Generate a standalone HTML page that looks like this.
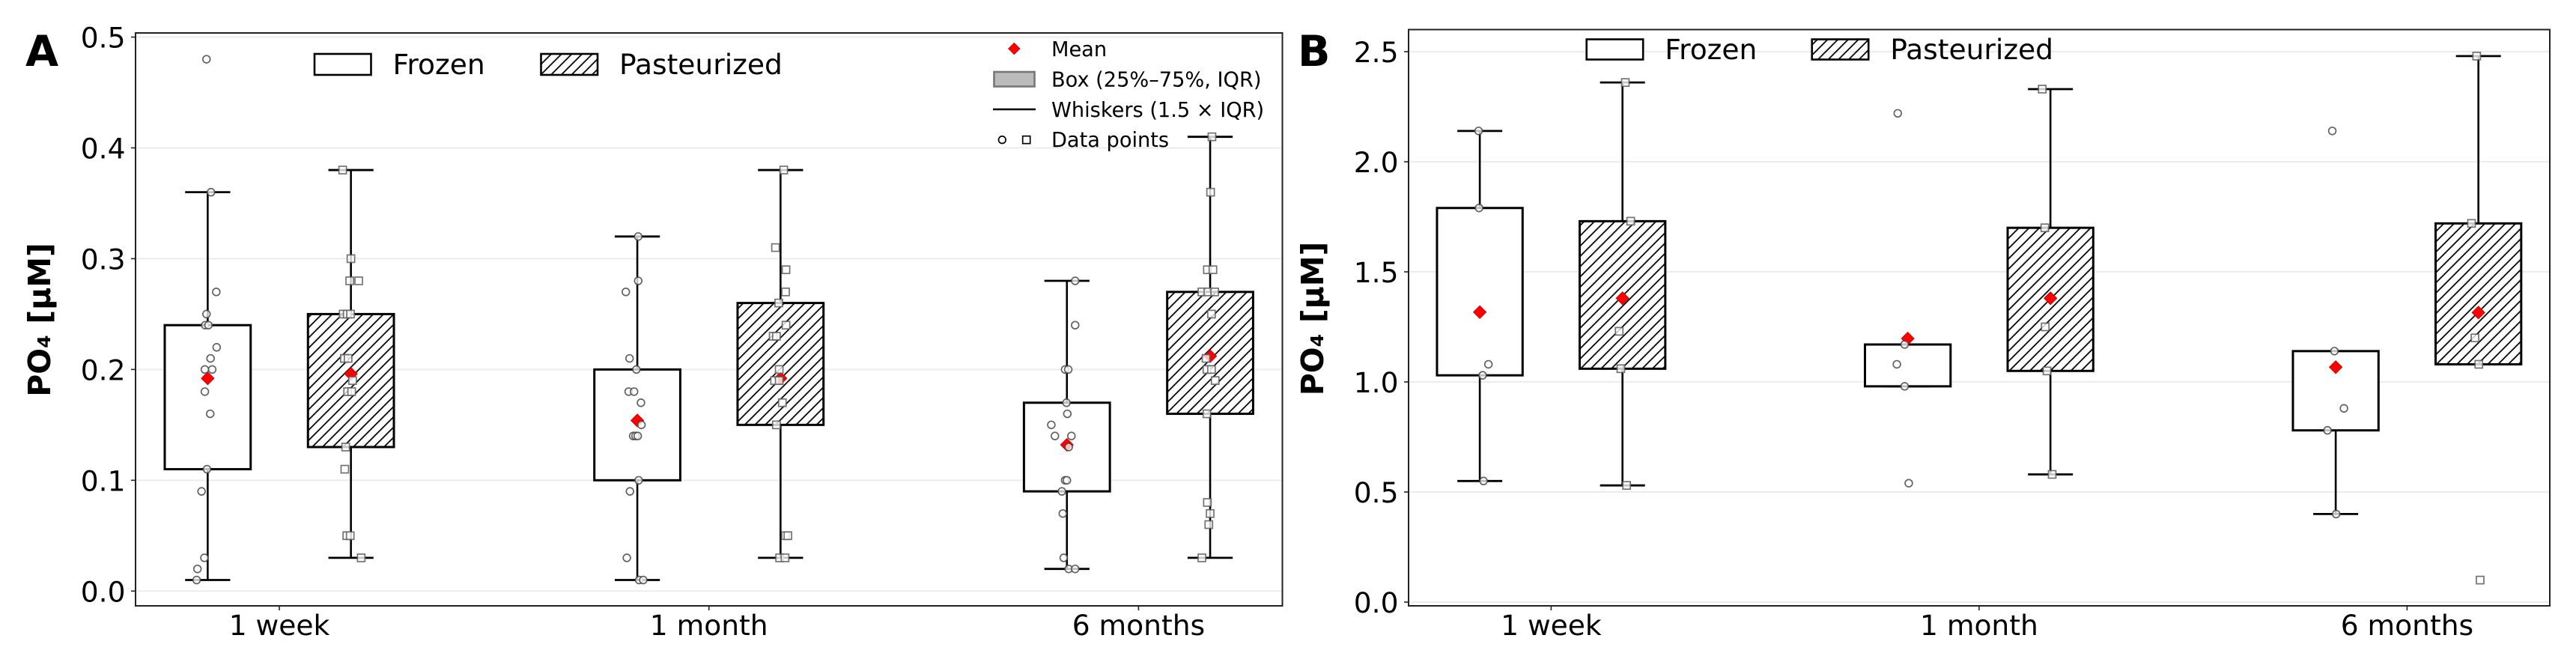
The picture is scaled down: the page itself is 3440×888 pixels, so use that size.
<!DOCTYPE html>
<html lang="en">
<head>
<meta charset="utf-8">
<title>PO4 box plots</title>
<style>
html,body{margin:0;padding:0;background:#fff;width:3440px;height:888px;overflow:hidden}
svg{display:block}
text{font-family:"DejaVu Sans","Liberation Sans",sans-serif;fill:#000}
</style>
</head>
<body>
<svg id="figure" xmlns="http://www.w3.org/2000/svg" width="3440" height="888" viewBox="0 0 3440 888">
  <defs>
    <pattern id="hatch" patternUnits="userSpaceOnUse" width="13.7" height="13.7">
      <path d="M-3.4,17.1 L17.1,-3.4 M-3.4,3.4 L3.4,-3.4 M10.3,17.1 L17.1,10.3" stroke="#000" stroke-width="1.8" fill="none"/>
    </pattern>
  </defs>
</svg>
<script>
/* ---------- shared categories and labels ---------- */
const categories = ['1 week', '1 month', '6 months'];
const seriesNames = ['Frozen', 'Pasteurized'];
const yLabelText = 'PO\u2084 [\u00B5M]';

/* ---------- panel A values ---------- */
const aTicks = [0, 0.1, 0.2, 0.3, 0.4, 0.5];
const aTickLabels = ['0.0', '0.1', '0.2', '0.3', '0.4', '0.5'];
const aFrozenQ1 = [0.11, 0.10, 0.09];
const aFrozenQ3 = [0.24, 0.20, 0.17];
const aFrozenLow = [0.01, 0.01, 0.02];
const aFrozenHigh = [0.36, 0.32, 0.28];
const aFrozenMean = [0.192, 0.154, 0.132];
const aPastQ1 = [0.13, 0.15, 0.16];
const aPastQ3 = [0.25, 0.26, 0.27];
const aPastLow = [0.03, 0.03, 0.03];
const aPastHigh = [0.38, 0.38, 0.41];
const aPastMean = [0.196, 0.192, 0.212];

const aFrozenPts1w = [0.48,0.36,0.27,0.25,0.24,0.24,0.22,0.21,0.20,0.20,0.18,0.16,0.11,0.09,0.03,0.02,0.01];
const aFrozenJit1w = [-0.28,0.77,2.0,-0.28,-0.58,0.17,2.09,0.66,-0.66,1.05,-0.66,0.58,-0.17,-1.43,-0.77,-2.39,-2.58];
const aFrozenPts1m = [0.32,0.28,0.27,0.21,0.20,0.18,0.18,0.17,0.15,0.14,0.14,0.14,0.10,0.09,0.03,0.01,0.01];
const aFrozenJit1m = [0.21,0.21,-2.67,-1.81,-0.21,-2.02,-0.75,0.85,0.96,-0.96,-0.42,0.10,0.31,-1.71,-2.44,0.42,1.39];
const aFrozenPts6m = [0.28,0.24,0.20,0.20,0.17,0.16,0.15,0.14,0.14,0.13,0.10,0.10,0.09,0.07,0.03,0.02,0.02];
const aFrozenJit6m = [1.92,1.92,-0.42,0.31,-0.10,0.10,-3.63,-2.79,1.05,0.42,-0.42,0,-1.17,-0.96,-0.75,0.42,1.92];
const aPastPts1w = [0.38,0.30,0.28,0.28,0.25,0.25,0.25,0.21,0.21,0.19,0.18,0.18,0.13,0.11,0.05,0.05,0.03];
const aPastJit1w = [-1.92,0,-0.28,1.81,-1.81,-0.87,-0.09,-1.53,-0.66,0.38,-0.77,0.17,-1.22,-1.43,-0.96,-0.17,2.39];
const aPastPts1m = [0.38,0.31,0.29,0.27,0.26,0.24,0.23,0.23,0.20,0.19,0.19,0.17,0.15,0.05,0.05,0.03,0.03];
const aPastJit1m = [0.75,-1.17,1.27,1.17,-0.42,1.27,-1.71,-0.96,-0.31,-1.39,-0.31,0.42,-0.96,1.17,1.71,-0.21,1.05];
const aPastPts6m = [0.41,0.36,0.29,0.29,0.27,0.27,0.27,0.25,0.21,0.20,0.20,0.19,0.16,0.08,0.07,0.06,0.03];
const aPastJit6m = [0.42,0.10,-0.64,0.64,-1.92,-0.52,1.05,0.31,-0.96,-0.75,0.31,1.17,-0.75,-0.64,0,-0.31,-1.92];

/* ---------- panel B values ---------- */
const bTicks = [0, 0.5, 1.0, 1.5, 2.0, 2.5];
const bTickLabels = ['0.0', '0.5', '1.0', '1.5', '2.0', '2.5'];
const bFrozenQ1 = [1.03, 0.98, 0.78];
const bFrozenQ3 = [1.79, 1.17, 1.14];
const bFrozenLow = [0.55, 0.98, 0.40];
const bFrozenHigh = [2.14, 1.17, 1.14];
const bFrozenMean = [1.317, 1.197, 1.067];
const bPastQ1 = [1.06, 1.05, 1.08];
const bPastQ3 = [1.73, 1.70, 1.72];
const bPastLow = [0.53, 0.58, 1.08];
const bPastHigh = [2.36, 2.33, 2.48];
const bPastMean = [1.38, 1.38, 1.315];

const bFrozenPts1w = [2.14,1.79,1.08,1.03,0.55];
const bFrozenJit1w = [-0.28,-0.17,2.01,0.66,0.87];
const bFrozenPts1m = [2.22,1.17,1.08,0.98,0.54];
const bFrozenJit1m = [-2.34,-0.73,-2.55,-0.73,0.23];
const bFrozenPts6m = [2.14,1.14,0.88,0.78,0.40];
const bFrozenJit6m = [-0.80,-0.30,1.92,-1.92,0.10];
const bPastPts1w = [2.36,1.73,1.23,1.06,0.53];
const bPastJit1w = [0.66,1.92,-0.77,-0.38,0.96];
const bPastPts1m = [2.33,1.70,1.25,1.05,0.58];
const bPastJit1m = [-1.92,-1.31,-1.22,-0.80,0.40];
const bPastPts6m = [2.48,1.72,1.20,1.08,0.10];
const bPastJit6m = [-0.40,-1.61,-0.80,0.10,0.40];

/* ---------- drawing ---------- */
const NS = 'http://www.w3.org/2000/svg';
const root = document.getElementById('figure');
const SERIES_OFFSET = 0.1667;
const BOX_W = 0.2;
const CAP_W = 0.105;

function mk(parent, tag, attrs, txt) {
  const n = document.createElementNS(NS, tag);
  for (const k in attrs) n.setAttribute(k, attrs[k]);
  if (txt !== undefined) n.textContent = txt;
  parent.appendChild(n);
  return n;
}

function drawSeries(g, ax, s, q1, q3, lo, hi, mean, ptsList, jitList, seriesKey) {
  const off = s === 0 ? -SERIES_OFFSET : SERIES_OFFSET;
  categories.forEach(function (cat, c) {
    const cx = ax.x(c + off);
    const half = (ax.x(BOX_W) - ax.x(0)) / 2;
    const capHalf = (ax.x(CAP_W) - ax.x(0)) / 2;

    const whiskHi = mk(g, 'line', {x1: cx, x2: cx, y1: ax.y(q3[c]), y2: ax.y(hi[c]), stroke: '#000', 'stroke-width': 2.6});
    
    
    const whiskLo = mk(g, 'line', {x1: cx, x2: cx, y1: ax.y(q1[c]), y2: ax.y(lo[c]), stroke: '#000', 'stroke-width': 2.6});
    
    
    const capHi = mk(g, 'line', {x1: cx - capHalf, x2: cx + capHalf, y1: ax.y(hi[c]), y2: ax.y(hi[c]), stroke: '#000', 'stroke-width': 2.8});
    
    
    const capLo = mk(g, 'line', {x1: cx - capHalf, x2: cx + capHalf, y1: ax.y(lo[c]), y2: ax.y(lo[c]), stroke: '#000', 'stroke-width': 2.8});
    
    

    const box = mk(g, 'rect', {x: cx - half, width: half * 2, y: ax.y(q3[c]), height: ax.y(q1[c]) - ax.y(q3[c]), fill: '#fff', stroke: 'none'});
    
    
    const outline = mk(g, 'rect', {x: cx - half, width: half * 2, y: ax.y(q3[c]), height: ax.y(q1[c]) - ax.y(q3[c]), fill: s === 0 ? 'none' : 'url(#hatch)', stroke: '#000', 'stroke-width': 3});
    
    
  });
  categories.forEach(function (cat, c) {
    const cx = ax.x(c + off);
    const my = ax.y(mean[c]);
    const d = mk(g, 'polygon', {points: [cx, my - 8.6, cx + 8.6, my, cx, my + 8.6, cx - 8.6, my].join(','), fill: '#f00', stroke: '#c80000', 'stroke-width': 0.8});
    
    
  });
  categories.forEach(function (cat, c) {
    const pts = ptsList[c];
    const jit = jitList[c];
    pts.forEach(function (v, i) {
      const px = ax.x(c + off + jit[i] / 100);
      const py = ax.y(v);
      let m;
      if (s === 0) {
        m = mk(g, 'circle', {cx: px, cy: py, r: 4.9, fill: 'rgba(255,255,255,.75)', stroke: 'rgba(70,70,70,.85)', 'stroke-width': 1.7});
      } else {
        m = mk(g, 'rect', {x: px - 5, y: py - 5, width: 10, height: 10, fill: 'rgba(255,255,255,.78)', stroke: 'rgba(90,90,90,.85)', 'stroke-width': 1.7});
      }
      
      
    });
  });
}

function drawPanel(p) {
  const g = mk(root, 'g', {});
  
  
  const ax = p.ax;

  const letter = mk(g, 'text', {x: p.letterX, y: 88, 'font-size': 57, 'font-weight': 700}, p.letter);
  
  

  const bg = mk(g, 'rect', {x: p.left, y: p.top, width: p.right - p.left, height: p.bottom - p.top, fill: '#fff'});
  
  

  p.ticks.forEach(function (t, i) {
    const grid = mk(g, 'line', {x1: p.left, x2: p.right, y1: ax.y(t), y2: ax.y(t), stroke: '#ececec', 'stroke-width': 2});
    
    
    const tk = mk(g, 'line', {x1: p.left - 6, x2: p.left, y1: ax.y(t), y2: ax.y(t), stroke: '#222', 'stroke-width': 1.6});
    
    
    const lb = mk(g, 'text', {x: p.left - 13.5, y: ax.y(t) + 14, 'font-size': 37.6, 'text-anchor': 'end'}, p.tickLabels[i]);
    
    
  });

  categories.forEach(function (cat, c) {
    const tk = mk(g, 'line', {x1: ax.x(c), x2: ax.x(c), y1: p.bottom, y2: p.bottom + 6, stroke: '#222', 'stroke-width': 1.6});
    
    
    const lb = mk(g, 'text', {x: ax.x(c), y: 848, 'font-size': 37.6, 'text-anchor': 'middle'}, cat);
    
    
  });

  const yl = mk(g, 'text', {transform: 'translate(' + p.yLabelX + ',' + p.yLabelY + ') rotate(-90)', 'font-size': 41, 'font-weight': 700, 'text-anchor': 'middle'}, yLabelText);
  
  

  drawSeries(g, ax, 0, p.fq1, p.fq3, p.flo, p.fhi, p.fmean, p.fpts, p.fjit, 'frozen');
  drawSeries(g, ax, 1, p.pq1, p.pq3, p.plo, p.phi, p.pmean, p.ppts, p.pjit, 'pasteurized');

  const spine = mk(g, 'rect', {x: p.left, y: p.top, width: p.right - p.left, height: p.bottom - p.top, fill: 'none', stroke: '#222', 'stroke-width': 2});
  
  

  /* condition legend */
  const lg = mk(g, 'g', {});
  
  
  const patchF = mk(lg, 'rect', {x: p.lgFrozenX, y: p.lgTop, width: 75.5, height: p.lgH, fill: '#fff', stroke: '#000', 'stroke-width': 2.6});
  
  
  const txtF = mk(lg, 'text', {x: p.lgFrozenX + 104.5, y: p.lgBase, 'font-size': 37.6}, seriesNames[0]);
  
  
  const patchP = mk(lg, 'rect', {x: p.lgPastX, y: p.lgTop, width: 75.5, height: p.lgH, fill: 'url(#hatch)', stroke: '#000', 'stroke-width': 2.6});
  
  
  const txtP = mk(lg, 'text', {x: p.lgPastX + 104.5, y: p.lgBase, 'font-size': 37.6}, seriesNames[1]);
  
  
}

function xAxisA(v) { return 373 + 573.7 * v; }
function yAxisA(v) { return 789.3 - 1479.6 * v; }
function xAxisB(v) { return 2071.4 + 571.5 * v; }
function yAxisB(v) { return 804 - 294 * v; }

drawPanel({
  key: 'a', letter: 'A', letterX: 34,
  left: 181, right: 1712.5, top: 44, bottom: 809,
  yLabelX: 67, yLabelY: 427,
  ax: {x: xAxisA, y: yAxisA},
  ticks: aTicks, tickLabels: aTickLabels,
  fq1: aFrozenQ1, fq3: aFrozenQ3, flo: aFrozenLow, fhi: aFrozenHigh, fmean: aFrozenMean,
  pq1: aPastQ1, pq3: aPastQ3, plo: aPastLow, phi: aPastHigh, pmean: aPastMean,
  fpts: [aFrozenPts1w, aFrozenPts1m, aFrozenPts6m], fjit: [aFrozenJit1w, aFrozenJit1m, aFrozenJit6m],
  ppts: [aPastPts1w, aPastPts1m, aPastPts6m], pjit: [aPastJit1w, aPastJit1m, aPastJit6m],
  lgFrozenX: 420, lgPastX: 722.5, lgTop: 72, lgH: 28, lgBase: 99
});

drawPanel({
  key: 'b', letter: 'B', letterX: 1733,
  left: 1881, right: 3405, top: 39.5, bottom: 809,
  yLabelX: 1767, yLabelY: 425.5,
  ax: {x: xAxisB, y: yAxisB},
  ticks: bTicks, tickLabels: bTickLabels,
  fq1: bFrozenQ1, fq3: bFrozenQ3, flo: bFrozenLow, fhi: bFrozenHigh, fmean: bFrozenMean,
  pq1: bPastQ1, pq3: bPastQ3, plo: bPastLow, phi: bPastHigh, pmean: bPastMean,
  fpts: [bFrozenPts1w, bFrozenPts1m, bFrozenPts6m], fjit: [bFrozenJit1w, bFrozenJit1m, bFrozenJit6m],
  ppts: [bPastPts1w, bPastPts1m, bPastPts6m], pjit: [bPastJit1w, bPastJit1m, bPastJit6m],
  lgFrozenX: 2118.7, lgPastX: 2419.7, lgTop: 52.5, lgH: 27, lgBase: 79
});

/* key legend in panel A */
const key = mk(root, 'g', {});


const keyDiamond = mk(key, 'polygon', {points: '1354.3,57.3 1362,65 1354.3,72.7 1346.6,65', fill: '#f00', stroke: '#c80000', 'stroke-width': 0.8});


const keyMean = mk(key, 'text', {x: 1404, y: 75, 'font-size': 27.2}, 'Mean');


const keyBox = mk(key, 'rect', {x: 1327.5, y: 96, width: 54, height: 19.5, fill: '#bbb', stroke: '#777', 'stroke-width': 2.6});


const keyBoxText = mk(key, 'text', {x: 1404, y: 115.7, 'font-size': 27.2}, 'Box (25%\u201375%, IQR)');


const keyLine = mk(key, 'line', {x1: 1326, x2: 1383, y1: 146, y2: 146, stroke: '#000', 'stroke-width': 2.6});


const keyLineText = mk(key, 'text', {x: 1404, y: 156, 'font-size': 27.2}, 'Whiskers (1.5 \u00D7 IQR)');


const keyCircle = mk(key, 'circle', {cx: 1338.3, cy: 186.7, r: 4.8, fill: '#fff', stroke: '#000', 'stroke-width': 1.7});


const keySquare = mk(key, 'rect', {x: 1365.7, y: 181.7, width: 10, height: 10, fill: '#fff', stroke: '#000', 'stroke-width': 1.7});


const keyPoints = mk(key, 'text', {x: 1404, y: 196, 'font-size': 27.2}, 'Data points');


</script>
</body>
</html>
